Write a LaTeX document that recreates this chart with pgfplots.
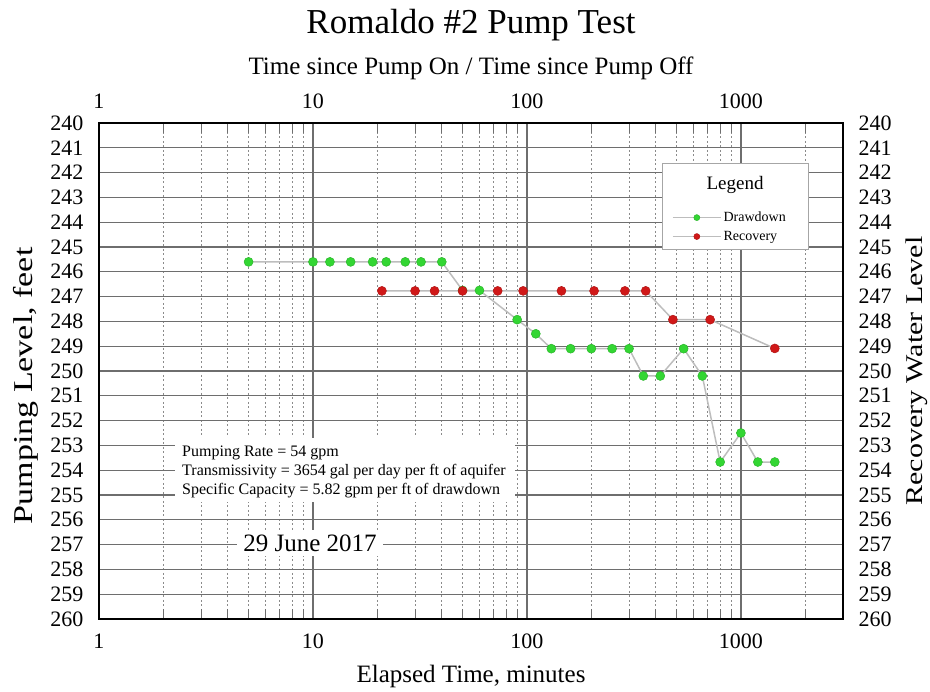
\documentclass[border=0pt]{standalone}
\usepackage{fontspec}
\setmainfont{Liberation Serif}
\usepackage{graphicx}
\usepackage{pgfplots}
\pgfplotsset{compat=1.18}
\definecolor{ddgreen}{HTML}{33D633}
\definecolor{rcred}{HTML}{D01818}
\definecolor{lnk}{HTML}{BDBDBD}
\definecolor{grd}{HTML}{6E6E6E}

\pgfplotstableread{
t v
5 245.6
10 245.6
12 245.6
15 245.6
19 245.6
22 245.6
27 245.6
32 245.6
40 245.6
50 246.75
60 246.75
90 247.93
110 248.5
130 249.1
160 249.1
200 249.1
250 249.1
300 249.1
350 250.2
420 250.2
540 249.1
660 250.2
800 253.67
1000 252.5
1200 253.67
1440 253.67
}\drawdown

\pgfplotstableread{
t v
21 246.77
30 246.77
37 246.77
50 246.77
73 246.77
96 246.77
145 246.77
206 246.77
287 246.77
359 246.77
481 247.93
718 247.93
1440 249.09
}\recovery

\begin{document}
\begin{tikzpicture}
\useasboundingbox (-99pt,-73pt) rectangle (831pt,619pt);
\begin{axis}[
  at={(0,0)}, anchor=south west, scale only axis,
  width=744pt, height=496pt,
  xmode=log, log basis x=10, xmin=1, xmax=3000,
  ymin=240, ymax=260, y dir=reverse,
  xtick={1,10,100,1000}, xticklabels={1,10,100,1000},
  minor xtick={2,3,4,5,6,7,8,9,20,30,40,50,60,70,80,90,200,300,400,500,600,700,800,900,2000},
  ytick={240,241,...,260},
  /pgf/number format/assume math mode=true,
  /pgf/number format/1000 sep={},
  tick label style={font=\fontsize{22}{22}\selectfont},
  xticklabel style={yshift=-11pt},
  yticklabel style={xshift=-12pt},
  xmajorgrids, xminorgrids, ymajorgrids,
  major grid style={grd, line width=1.3pt, solid},
  minor grid style={grd!80, line width=0.8pt, dash pattern=on 2pt off 2.5pt},
  axis line style={black, line width=2pt},
  major tick length=0pt, minor tick length=10pt,
  minor tick style={grd, line width=1pt},
  tick align=inside,
  xlabel={Elapsed Time, minutes},
  xlabel style={font=\fontsize{25}{25}\selectfont, at={(axis description cs:0.5,-0.1149)}, anchor=center},
  ylabel={\scalebox{1}[0.8]{Pumping Level, feet}},
  ylabel style={font=\fontsize{34}{34}\selectfont, at={(axis description cs:-0.0981,0.47)}, anchor=center},
  legend style={at={(rel axis cs:0.770,0.825)}, anchor=north west, draw=none, fill=none,
    font=\fontsize{14}{14}\selectfont, row sep=4pt, inner sep=0pt, nodes={inner sep=2pt}},
  legend cell align=left,
  legend image code/.code={\draw[#1, mark size=3pt, mark repeat=2, mark phase=2] plot coordinates {(0pt,0pt) (24pt,0pt) (48pt,0pt)};},
]
\addplot[lnk, line width=1.5pt, mark=*, mark size=4.5pt, mark options={draw=ddgreen!85!black, fill=ddgreen, line width=0.5pt}] table[x=t, y=v] {\drawdown};
\addlegendentry{Drawdown}
\addplot[lnk, line width=1.5pt, mark=*, mark size=4.5pt, mark options={draw=rcred!85!black, fill=rcred, line width=0.5pt}] table[x=t, y=v] {\recovery};
\addlegendentry{Recovery}
\filldraw[fill=white, draw=gray!70, line width=1pt] (rel axis cs:0.758,0.919) rectangle (rel axis cs:0.953,0.744);
\node[font=\fontsize{19}{19}\selectfont] at (rel axis cs:0.855,0.875) {Legend};
\fill[white] (rel axis cs:0.102,0.365) rectangle (rel axis cs:0.559,0.236);
\node[anchor=north west, align=left, font=\fontsize{16}{19}\selectfont, inner sep=0pt] at (rel axis cs:0.1116,0.349) {Pumping Rate = 54 gpm\\Transmissivity = 3654 gal per day per ft of aquifer\\Specific Capacity = 5.82 gpm per ft of drawdown};
\node[fill=white, font=\fontsize{25}{25}\selectfont, inner xsep=6pt, inner ysep=5pt] at (rel axis cs:0.2836,0.1532) {29 June 2017};
\end{axis}
\begin{axis}[
  at={(0,0)}, anchor=south west, scale only axis,
  width=744pt, height=496pt,
  xmode=log, log basis x=10, xmin=1, xmax=3000,
  ymin=240, ymax=260, y dir=reverse,
  axis line style={draw=none},
  major tick length=0pt, minor tick length=0pt,
  xtick={1,10,100,1000}, xticklabels={1,10,100,1000},
  ytick={240,241,...,260},
  /pgf/number format/assume math mode=true,
  /pgf/number format/1000 sep={},
  tick label style={font=\fontsize{22}{22}\selectfont},
  xticklabel style={yshift=11pt},
  yticklabel style={xshift=12pt},
  xticklabel pos=upper, yticklabel pos=right,
  xlabel={Time since Pump On / Time since Pump Off},
  xlabel style={font=\fontsize{25}{25}\selectfont, at={(axis description cs:0.5,1.1109)}, anchor=center},
  ylabel={\scalebox{1}[0.8]{Recovery Water Level}},
  ylabel style={font=\fontsize{30}{30}\selectfont, at={(axis description cs:1.0995,0.5)}, anchor=center},
  title={Romaldo \#2 Pump Test},
  title style={font=\fontsize{35}{35}\selectfont, at={(axis description cs:0.5,1.2036)}, anchor=center, yshift=-9pt},
]
\end{axis}
\end{tikzpicture}
\end{document}
